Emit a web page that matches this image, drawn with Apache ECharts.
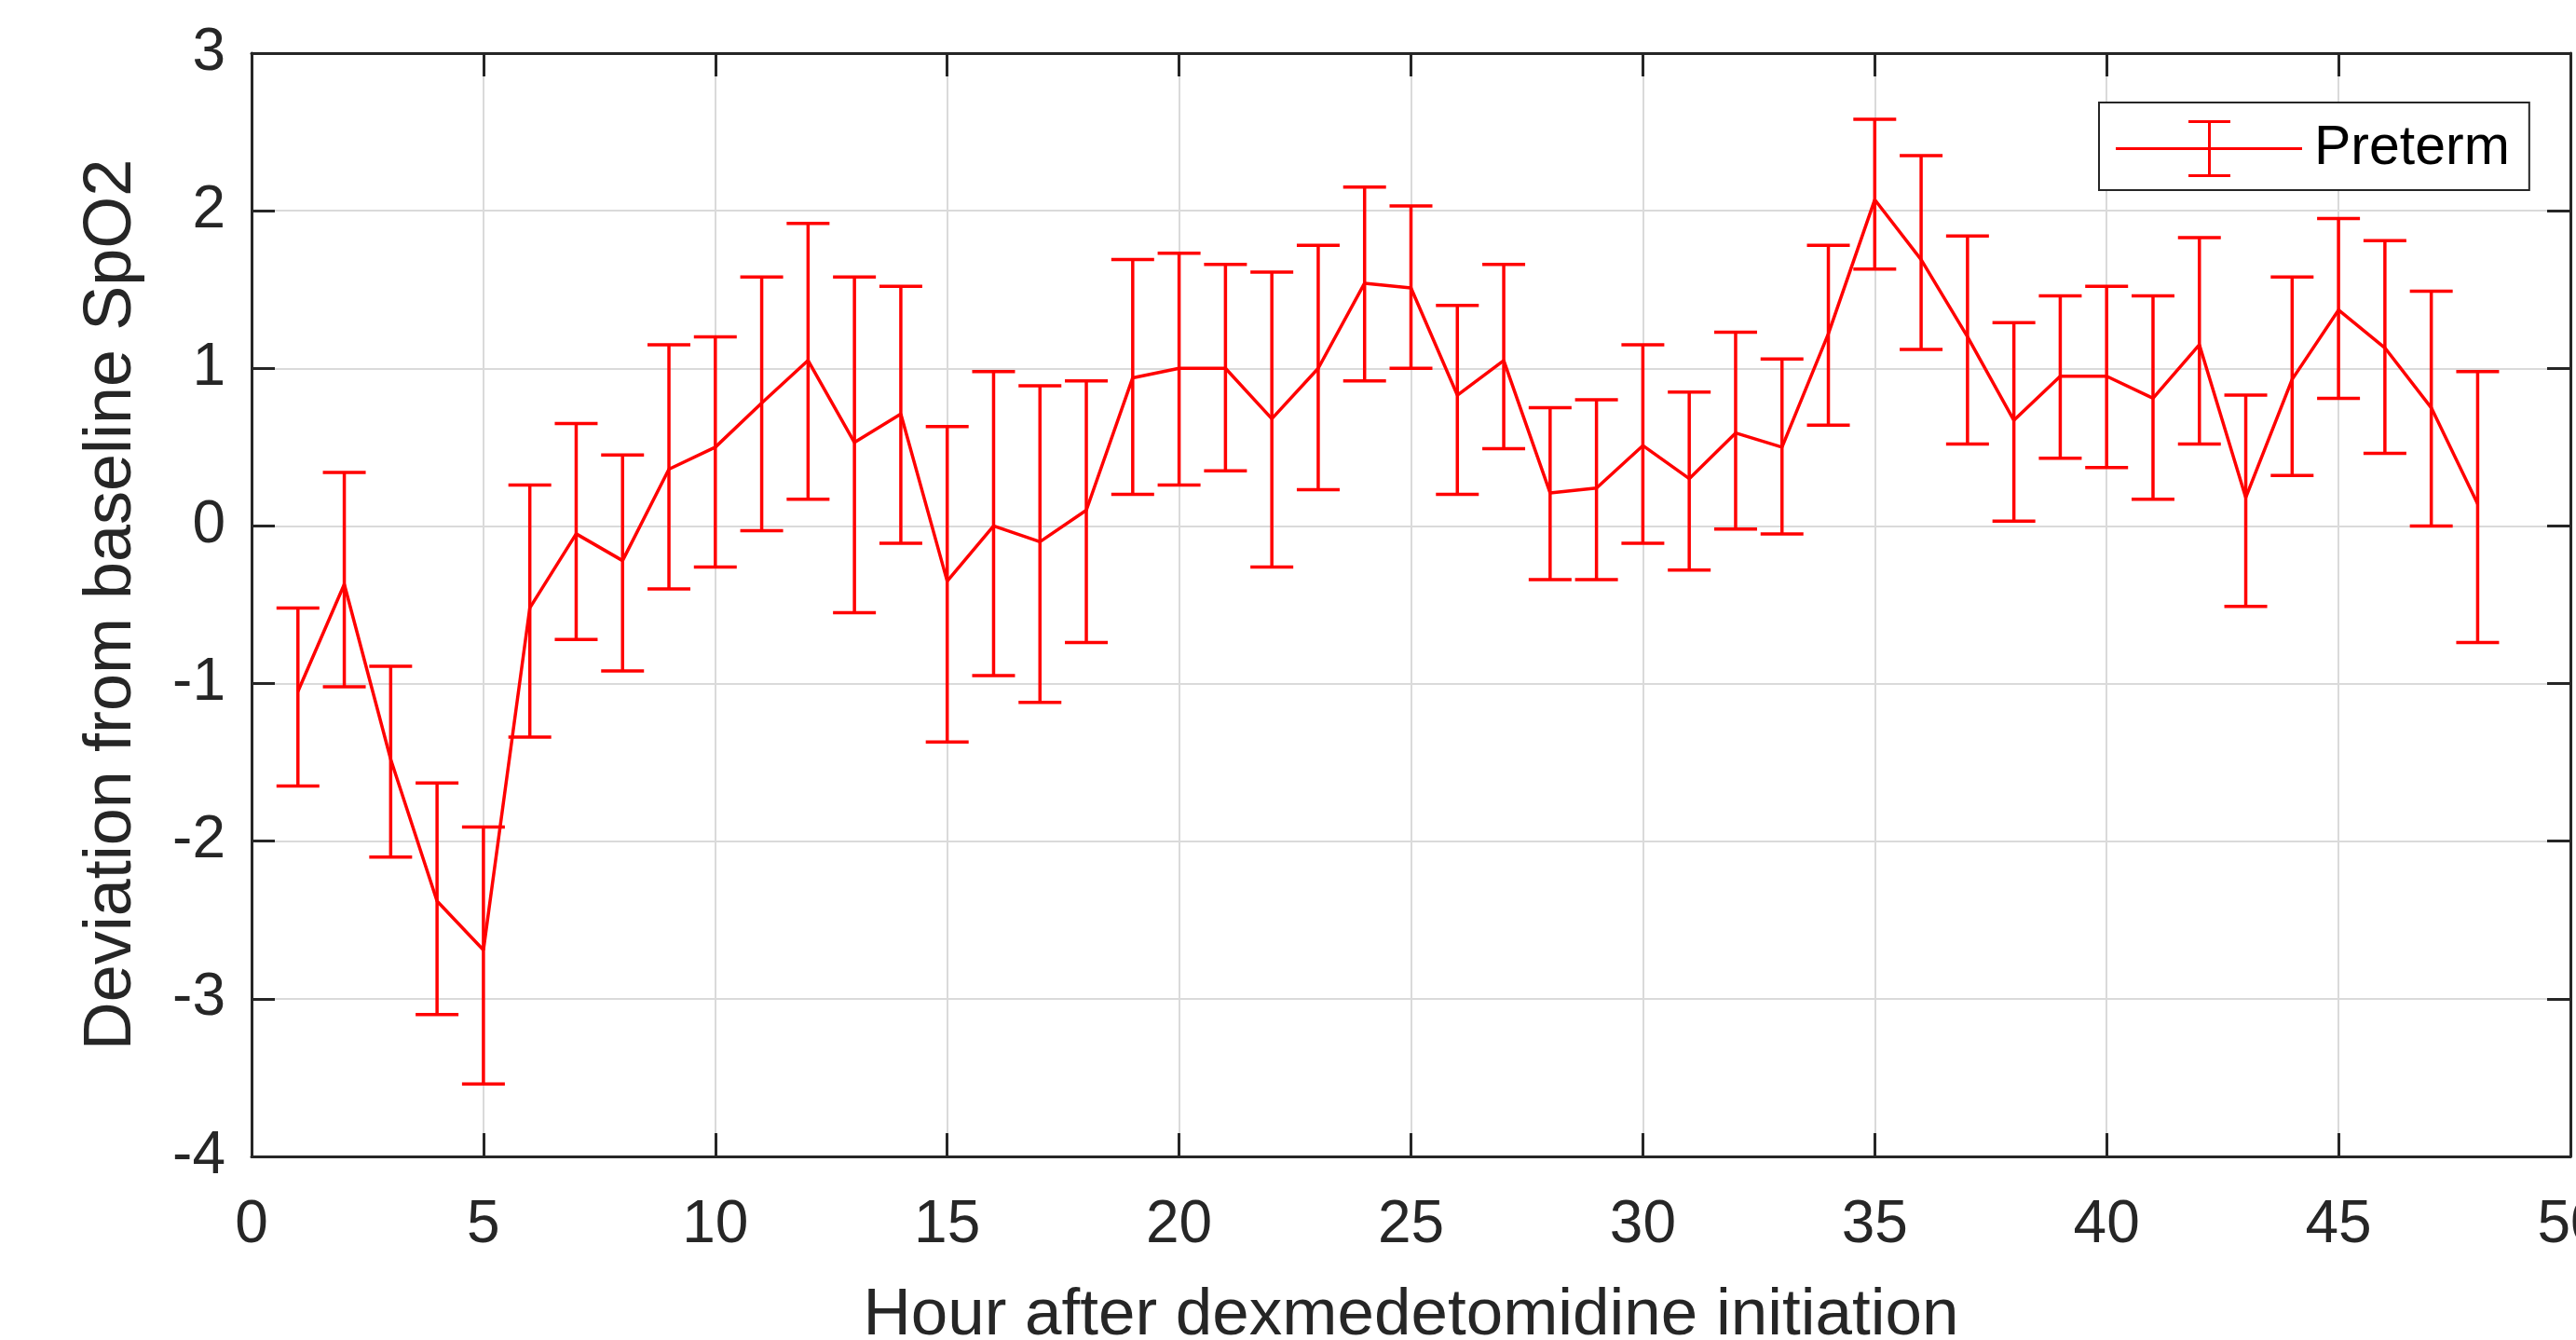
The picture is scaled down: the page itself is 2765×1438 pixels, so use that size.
<!DOCTYPE html>
<html>
<head>
<meta charset="utf-8">
<title>Deviation from baseline SpO2</title>
<script src="https://cdn.jsdelivr.net/npm/echarts@6/dist/echarts.min.js"></script>
<style>
  html, body { margin: 0; padding: 0; background: #fff; overflow: hidden; }
  #chart { width: 2765px; height: 1438px; }
</style>
</head>
<body>
<div id="chart"></div>
<script>
// hours after initiation, mean deviation and error bar ends
const hours = [1, 2, 3, 4, 5, 6, 7, 8, 9, 10, 11, 12, 13, 14, 15, 16, 17, 18, 19, 20, 21, 22, 23, 24,
  25, 26, 27, 28, 29, 30, 31, 32, 33, 34, 35, 36, 37, 38, 39, 40, 41, 42, 43, 44, 45, 46, 47, 48];
const meanDev = [-1.05, -0.37, -1.48, -2.38, -2.69, -0.52, -0.05, -0.22, 0.36, 0.50, 0.78, 1.05,
  0.53, 0.71, -0.35, 0.00, -0.10, 0.10, 0.94, 1.00, 1.00, 0.68, 1.00, 1.54,
  1.51, 0.83, 1.05, 0.21, 0.24, 0.51, 0.30, 0.59, 0.50, 1.22, 2.07, 1.69,
  1.20, 0.67, 0.95, 0.95, 0.81, 1.15, 0.18, 0.93, 1.37, 1.13, 0.75, 0.14];
const upperDev = [-0.52, 0.34, -0.89, -1.63, -1.91, 0.26, 0.65, 0.45, 1.15, 1.20, 1.58, 1.92,
  1.58, 1.52, 0.63, 0.98, 0.89, 0.92, 1.69, 1.73, 1.66, 1.61, 1.78, 2.15,
  2.03, 1.40, 1.66, 0.75, 0.80, 1.15, 0.85, 1.23, 1.06, 1.78, 2.58, 2.35,
  1.84, 1.29, 1.46, 1.52, 1.46, 1.83, 0.83, 1.58, 1.95, 1.81, 1.49, 0.98];
const lowerDev = [-1.65, -1.02, -2.10, -3.10, -3.54, -1.34, -0.72, -0.92, -0.40, -0.26, -0.03, 0.17,
  -0.55, -0.11, -1.37, -0.95, -1.12, -0.74, 0.20, 0.26, 0.35, -0.26, 0.23, 0.92,
  1.00, 0.20, 0.49, -0.34, -0.34, -0.11, -0.28, -0.02, -0.05, 0.64, 1.63, 1.12,
  0.52, 0.03, 0.43, 0.37, 0.17, 0.52, -0.51, 0.32, 0.81, 0.46, 0.00, -0.74];

const RED = '#ff0000';
const INK = '#262626';
const FONT = '"Liberation Sans", Arial, Helvetica, sans-serif';

const chart = echarts.init(document.getElementById('chart'));

const lineData = hours.map((h, i) => [h, meanDev[i]]);
const barData = hours.map((h, i) => [h, meanDev[i], lowerDev[i], upperDev[i]]);

function renderErrorBar(params, api) {
    const x = api.value(0);
    const lo = api.coord([x, api.value(2)]);
    const hi = api.coord([x, api.value(3)]);
    const half = 23;
    const style = { stroke: RED, lineWidth: 3.5 };
    return {
        type: 'group',
        children: [
            { type: 'line', shape: { x1: hi[0], y1: hi[1], x2: lo[0], y2: lo[1] }, style },
            { type: 'line', shape: { x1: hi[0] - half, y1: hi[1], x2: hi[0] + half, y2: hi[1] }, style },
            { type: 'line', shape: { x1: lo[0] - half, y1: lo[1], x2: lo[0] + half, y2: lo[1] }, style },
        ],
    };
}

const axisLine = { show: true, onZero: false, lineStyle: { color: INK, width: 3 } };
const axisTick = { show: true, inside: true, length: 25, lineStyle: { color: INK, width: 3 } };
const gridLine = { show: true, lineStyle: { color: '#dadada', width: 2 } };

chart.setOption({
    backgroundColor: '#fff',
    animation: false,
    grid: { left: 270, right: 6, top: 57, bottom: 197, containLabel: false, outerBoundsMode: 'none' },
    legend: {
        data: ['Preterm'],
        left: 2253,
        top: 110,
        padding: [19, 21, 14, 18],
        itemWidth: 200,
        itemHeight: 61,
        // error bar glyph: horizontal line, stem and two caps
        icon: 'path://M0 29 H200 V32 H0 Z M99 0 H102 V61 H99 Z M78 0 H123 V3 H78 Z M78 58 H123 V61 H78 Z',
        itemStyle: { color: RED, borderWidth: 0 },
        borderColor: INK,
        borderWidth: 2,
        borderRadius: 0,
        backgroundColor: '#fff',
        textStyle: { color: '#000', fontSize: 59, lineHeight: 61, fontFamily: FONT, padding: [0, 0, 0, 8] },
    },
    xAxis: [
        {
            type: 'value', min: 0, max: 50, interval: 5, position: 'bottom',
            axisLine, axisTick, splitLine: gridLine,
            axisLabel: { color: INK, fontSize: 64, fontFamily: FONT, margin: 42 },
            name: 'Hour after dexmedetomidine initiation',
            nameLocation: 'middle', nameGap: 136,
            nameTextStyle: { color: INK, fontSize: 71, fontFamily: FONT },
        },
        {
            type: 'value', min: 0, max: 50, interval: 5, position: 'top',
            axisLine, axisTick, splitLine: { show: false }, axisLabel: { show: false },
        },
    ],
    yAxis: [
        {
            type: 'value', min: -4, max: 3, interval: 1, position: 'left',
            axisLine, axisTick, splitLine: gridLine,
            axisLabel: { color: INK, fontSize: 64, fontFamily: FONT, margin: 28 },
            name: 'Deviation from baseline SpO2',
            nameLocation: 'middle', nameGap: 114,
            nameTextStyle: { color: INK, fontSize: 72, fontFamily: FONT },
        },
        {
            type: 'value', min: -4, max: 3, interval: 1, position: 'right',
            axisLine, axisTick, splitLine: { show: false }, axisLabel: { show: false },
        },
    ],
    series: [
        {
            name: 'Preterm',
            type: 'custom',
            renderItem: renderErrorBar,
            encode: { x: 0, y: [1, 2, 3] },
            data: barData,
            itemStyle: { color: RED },
            z: 3,
        },
        {
            name: 'Preterm',
            type: 'line',
            data: lineData,
            symbol: 'none',
            showSymbol: false,
            lineStyle: { color: RED, width: 3.5 },
            itemStyle: { color: RED },
            z: 3,
        },
    ],
});
</script>
</body>
</html>
